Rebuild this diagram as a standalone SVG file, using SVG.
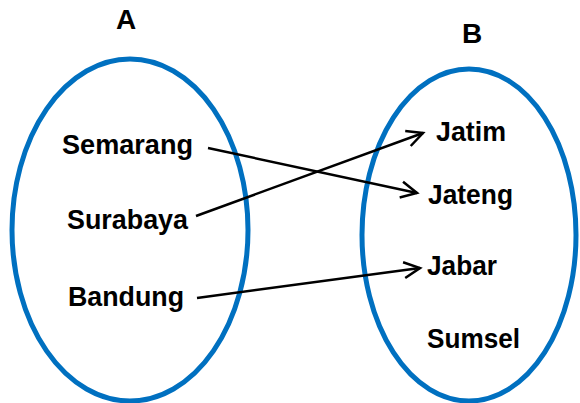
<svg xmlns="http://www.w3.org/2000/svg" width="580" height="403" viewBox="0 0 580 403">
  <style>
    .set { fill: none; stroke: #0070C0; stroke-width: 5; }
    .lbl { font-family: "Liberation Sans", Arial, sans-serif; font-weight: bold; font-size: 28px; fill: #000; }
    .conn { stroke: #000; stroke-width: 2.5; fill: none; }
  </style>
  <defs>
    <marker id="arr" markerUnits="userSpaceOnUse" markerWidth="24" markerHeight="24" refX="20" refY="12" orient="auto" viewBox="0 0 24 24">
      <path d="M4,4 L20,12 L4,20" fill="none" stroke="#000" stroke-width="2.5" stroke-linejoin="miter"/>
    </marker>
  </defs>
  <g id="setA">
    <ellipse class="set" cx="130" cy="230" rx="118" ry="171"/>
    <text class="lbl" x="126" y="29" text-anchor="middle">A</text>
    <text class="lbl" x="62" y="154" textLength="131" lengthAdjust="spacingAndGlyphs">Semarang</text>
    <text class="lbl" x="67" y="229" textLength="121" lengthAdjust="spacingAndGlyphs">Surabaya</text>
    <text class="lbl" x="68" y="306" textLength="116" lengthAdjust="spacingAndGlyphs">Bandung</text>
  </g>
  <g id="setB">
    <ellipse class="set" cx="469" cy="235" rx="107" ry="166"/>
    <text class="lbl" x="472" y="43" text-anchor="middle">B</text>
    <text class="lbl" x="436" y="141" textLength="70" lengthAdjust="spacingAndGlyphs">Jatim</text>
    <text class="lbl" x="428" y="204" textLength="85" lengthAdjust="spacingAndGlyphs">Jateng</text>
    <text class="lbl" x="427" y="275" textLength="70" lengthAdjust="spacingAndGlyphs">Jabar</text>
    <text class="lbl" x="427" y="348" textLength="93" lengthAdjust="spacingAndGlyphs">Sumsel</text>
  </g>
  <g id="connectors">
    <line class="conn" x1="208" y1="148" x2="417" y2="193" marker-end="url(#arr)"/>
    <line class="conn" x1="196" y1="216" x2="423" y2="133" marker-end="url(#arr)"/>
    <line class="conn" x1="197" y1="298" x2="420" y2="268" marker-end="url(#arr)"/>
  </g>
</svg>
